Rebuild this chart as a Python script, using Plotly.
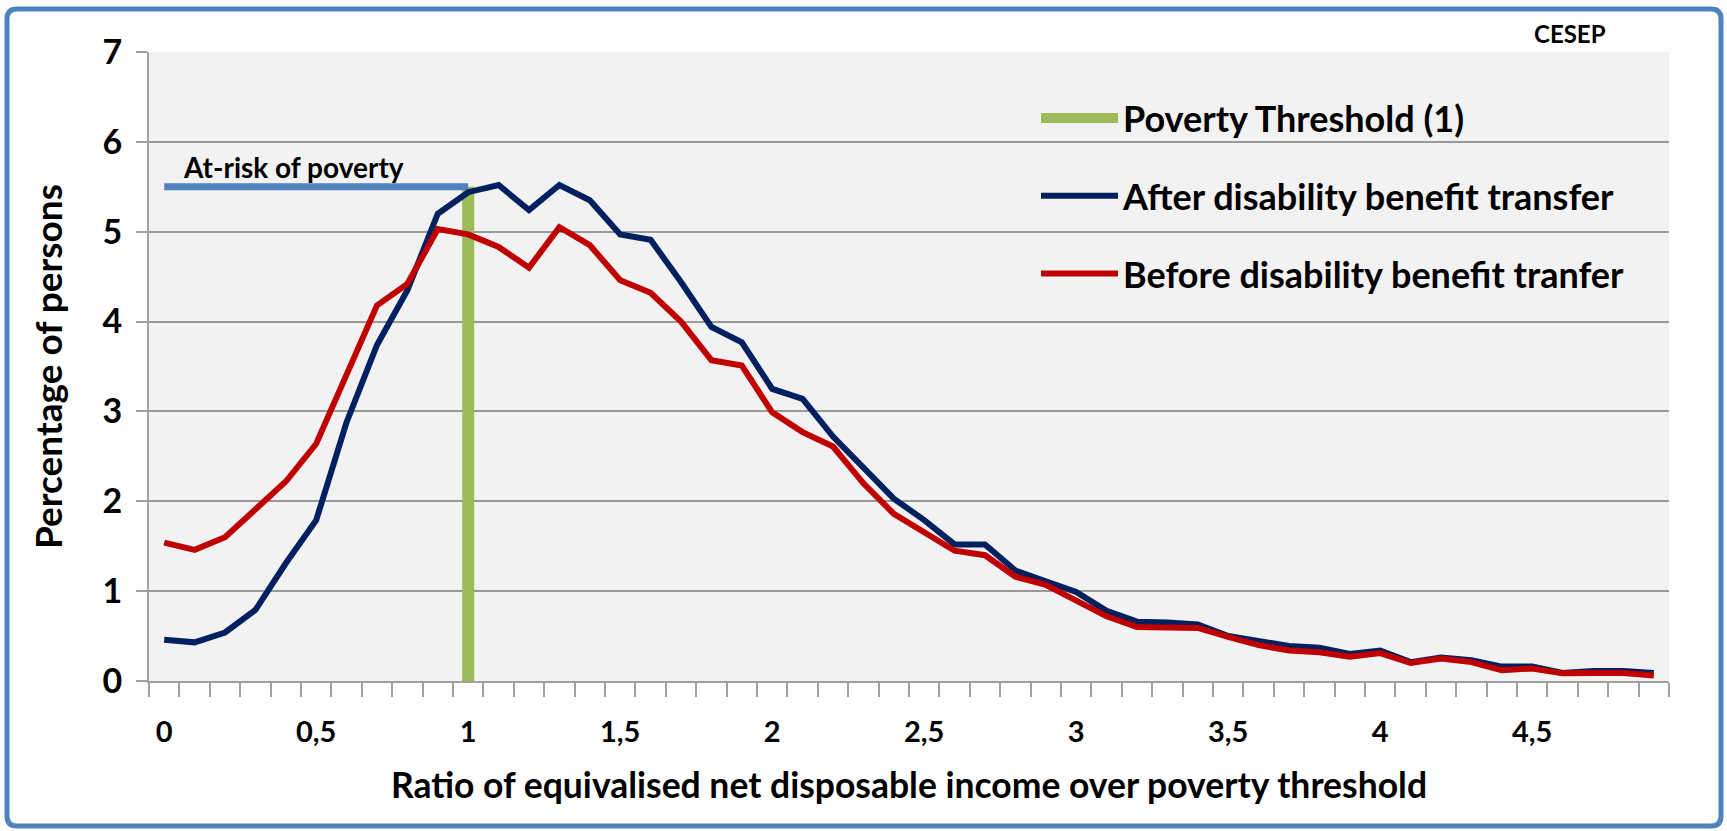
import plotly.graph_objects as go

# ---------------- data ----------------
ratio = [0.0, 0.1, 0.2, 0.3, 0.4, 0.5, 0.6, 0.7, 0.8, 0.9,
         1.0, 1.1, 1.2, 1.3, 1.4, 1.5, 1.6, 1.7, 1.8, 1.9,
         2.0, 2.1, 2.2, 2.3, 2.4, 2.5, 2.6, 2.7, 2.8, 2.9,
         3.0, 3.1, 3.2, 3.3, 3.4, 3.5, 3.6, 3.7, 3.8, 3.9,
         4.0, 4.1, 4.2, 4.3, 4.4, 4.5, 4.6, 4.7, 4.8, 4.9]

after_transfer = [0.46, 0.43, 0.54, 0.79, 1.31, 1.79, 2.88, 3.74, 4.35, 5.20,
                  5.44, 5.52, 5.24, 5.52, 5.35, 4.97, 4.91, 4.44, 3.94, 3.77,
                  3.25, 3.14, 2.72, 2.37, 2.03, 1.79, 1.52, 1.52, 1.23, 1.11,
                  0.99, 0.78, 0.66, 0.65, 0.63, 0.50, 0.44, 0.39, 0.37, 0.30,
                  0.34, 0.21, 0.26, 0.23, 0.16, 0.16, 0.09, 0.11, 0.11, 0.09]

before_transfer = [1.54, 1.46, 1.60, 1.91, 2.22, 2.64, 3.40, 4.18, 4.42, 5.03,
                   4.97, 4.83, 4.60, 5.05, 4.85, 4.46, 4.32, 4.00, 3.57, 3.51,
                   2.99, 2.77, 2.61, 2.20, 1.86, 1.65, 1.45, 1.40, 1.16, 1.07,
                   0.89, 0.72, 0.60, 0.59, 0.59, 0.49, 0.40, 0.34, 0.32, 0.27,
                   0.31, 0.20, 0.25, 0.21, 0.12, 0.14, 0.085, 0.09, 0.09, 0.06]

# poverty threshold column (ratio = 1), from 0 up to the at-risk level
threshold_x = [1.0, 1.0]
threshold_y = [0.0, 5.5]

risk_x = [0.0, 1.0]
risk_y = [5.5, 5.5]

x_tick_vals = [0, 0.5, 1, 1.5, 2, 2.5, 3, 3.5, 4, 4.5]
x_tick_text = ["0", "0,5", "1", "1,5", "2", "2,5", "3", "3,5", "4", "4,5"]
y_tick_vals = [0, 1, 2, 3, 4, 5, 6, 7]

# ---------------- figure ----------------
W, H = 1727, 831
L, R, T, B = 149, 58, 52, 150
PW, PH = W - L - R, H - T - B

FONT = "Lato"
GRAY = "#A0A0A0"

fig = go.Figure()

fig.add_trace(go.Scatter(
    x=threshold_x, y=threshold_y, mode="lines",
    name="Poverty Threshold (1)", legendgroup="g1",
    line=dict(color="#9BBB59", width=12),
    hoverinfo="skip",
))
fig.add_trace(go.Scatter(
    x=risk_x, y=risk_y, mode="lines", showlegend=False,
    line=dict(color="#4F81BD", width=7), hoverinfo="skip",
))
fig.add_trace(go.Scatter(
    x=ratio, y=after_transfer, mode="lines",
    name="After disability benefit transfer", legendgroup="g2",
    line=dict(color="#002060", width=6),
))
fig.add_trace(go.Scatter(
    x=ratio, y=before_transfer, mode="lines",
    name="Before disability benefit tranfer", legendgroup="g3",
    line=dict(color="#C00000", width=6),
))


def px_x(p):
    return (p - L) / PW


def px_y(p):
    return (H - B - p) / PH


# rounded outer frame
x0, x1, y0, y1 = px_x(7), px_x(1721), px_y(9), px_y(826)
rx, ry = 10 / PW, 10 / PH
frame = (f"M{x0 + rx},{y0} L{x1 - rx},{y0} Q{x1},{y0} {x1},{y0 - ry} "
         f"L{x1},{y1 + ry} Q{x1},{y1} {x1 - rx},{y1} "
         f"L{x0 + rx},{y1} Q{x0},{y1} {x0},{y1 + ry} "
         f"L{x0},{y0 - ry} Q{x0},{y0} {x0 + rx},{y0} Z")

fig.update_layout(
    width=W, height=H,
    margin=dict(l=L, r=R, t=T, b=B),
    paper_bgcolor="white",
    plot_bgcolor="#F2F2F2",
    font=dict(family=FONT, color="black"),
    showlegend=True,
    legend=dict(
        x=px_x(1036), y=px_y(88), xanchor="left", yanchor="top",
        bgcolor="rgba(0,0,0,0)",
        font=dict(family=FONT, size=36, weight="bold", color="black"),
        itemwidth=77, tracegroupgap=28, traceorder="grouped",
    ),
    xaxis=dict(
        range=[-0.05, 4.95],
        tickmode="array", tickvals=x_tick_vals, ticktext=x_tick_text,
        ticks="", ticklen=0,
        showgrid=False, zeroline=False,
        showline=True, linecolor=GRAY, linewidth=2,
        tickfont=dict(family=FONT, size=29, weight="bold"),
        ticklabelstandoff=24,
        minor=dict(tick0=-0.05, dtick=0.1, ticks="outside", ticklen=14,
                   tickcolor=GRAY, tickwidth=1.5, showgrid=False),
        title=dict(text="Ratio of equivalised net disposable income over poverty threshold",
                   font=dict(family=FONT, size=35.5, weight="bold"), standoff=26),
    ),
    yaxis=dict(
        range=[0, 7], tickmode="array", tickvals=y_tick_vals,
        ticks="outside", ticklen=11, tickcolor=GRAY, tickwidth=1.5,
        showgrid=True, gridcolor="#999999", gridwidth=1.5,
        zeroline=False,
        showline=True, linecolor=GRAY, linewidth=2,
        tickfont=dict(family=FONT, size=34, weight="bold"),
        ticklabelstandoff=7,
        title=dict(text="Percentage of persons",
                   font=dict(family=FONT, size=37, weight="bold"), standoff=29),
    ),
    shapes=[dict(type="path", xref="paper", yref="paper", path=frame,
                 line=dict(color="#4F81BD", width=5), fillcolor="rgba(0,0,0,0)",
                 layer="above")],
    annotations=[
        dict(text="CESEP", xref="paper", yref="paper",
             x=px_x(1570), y=px_y(33), xanchor="center", yanchor="middle",
             showarrow=False, font=dict(family=FONT, size=24, weight="bold")),
        dict(text="At-risk of poverty", xref="x", yref="y",
             x=0.055, y=5.72, xanchor="left", yanchor="middle",
             showarrow=False, font=dict(family=FONT, size=28, weight="bold")),
    ],
)

fig.write_html("out.html")
